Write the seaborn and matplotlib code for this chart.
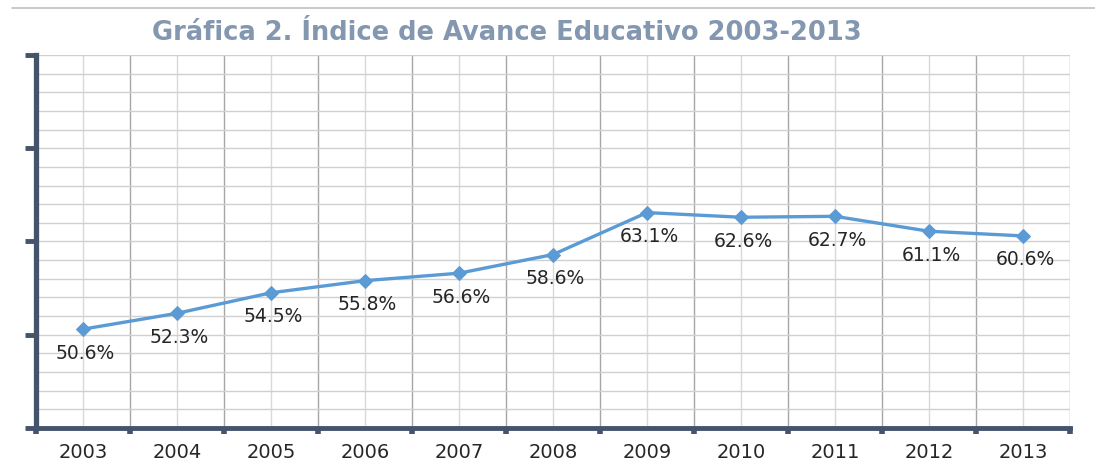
import matplotlib
matplotlib.use("Agg")
import matplotlib.pyplot as plt
import seaborn as sns
import pandas as pd
import numpy as np
from matplotlib.ticker import FixedLocator, MultipleLocator, NullFormatter
from matplotlib.lines import Line2D

years = ["2003", "2004", "2005", "2006", "2007", "2008", "2009", "2010", "2011", "2012", "2013"]
values = [50.6, 52.3, 54.5, 55.8, 56.6, 58.6, 63.1, 62.6, 62.7, 61.1, 60.6]
labels = ["50.6%", "52.3%", "54.5%", "55.8%", "56.6%", "58.6%", "63.1%", "62.6%", "62.7%", "61.1%", "60.6%"]
title = "Gráfica 2. Índice de Avance Educativo 2003-2013"

sns.set_theme(style="white")
plt.rcParams['font.family'] = ['DejaVu Sans']

df = pd.DataFrame({"year": years, "value": values})

fig = plt.figure(figsize=(10.95, 4.70), dpi=100)
ax = fig.add_axes([36/1095, 1 - 428/470, (1070 - 36)/1095, (428 - 55)/470])

line_color = "#5b9bd5"
spine_color = "#44546a"

sns.lineplot(data=df, x="year", y="value", ax=ax, color=line_color, linewidth=2.4,
             marker="D", markersize=7, markeredgecolor=line_color, zorder=5, sort=False)

n = len(years)
ax.set_xlim(-0.5, n - 0.5)
ax.set_ylim(40, 80)

# x ticks: major at boundaries (tick marks), minor at centers (labels)
ax.xaxis.set_major_locator(FixedLocator(np.arange(-0.5, n, 1.0)))
ax.xaxis.set_major_formatter(NullFormatter())
ax.set_xticks(np.arange(n), minor=True)
ax.set_xticklabels(years, minor=True)
ax.tick_params(axis="x", which="major", length=4, width=4, color=spine_color, direction="out", bottom=True)
ax.tick_params(axis="x", which="minor", length=0, pad=11, labelsize=14, labelcolor="#262626")

# y ticks: major every 10 (marks, no labels), minor every 2 (grid)
ax.yaxis.set_major_locator(MultipleLocator(10))
ax.yaxis.set_minor_locator(MultipleLocator(2))
ax.yaxis.set_major_formatter(NullFormatter())
ax.tick_params(axis="y", which="major", length=8, width=3.5, color=spine_color, direction="out", left=True)
ax.tick_params(axis="y", which="minor", length=0, left=False)

ax.grid(True, axis="x", which="major", color="#a6a6a6", linewidth=1.0)
ax.grid(True, axis="x", which="minor", color="#d9d9d9", linewidth=1.0)
ax.grid(True, axis="y", which="both", color="#d0d0d0", linewidth=1.0)
ax.set_axisbelow(True)

for s in ["top", "right"]:
    ax.spines[s].set_visible(False)
ax.spines["left"].set_color(spine_color)
ax.spines["left"].set_linewidth(3.8)
ax.spines["bottom"].set_color(spine_color)
ax.spines["bottom"].set_linewidth(3.5)
ax.set_xlabel("")
ax.set_ylabel("")

for i, (v, t) in enumerate(zip(values, labels)):
    ax.annotate(t, xy=(i, v), xytext=(2, -24), textcoords="offset pixels",
                ha="center", va="center", fontsize=13.5, color="#262626", zorder=6)

fig.text(507/1095, 1 - 33/470, title, ha="center", va="center", fontsize=18.5,
         fontweight="bold", color="#8497b0")

fig.add_artist(Line2D([12/1095, 1.0], [1 - 8/470, 1 - 8/470], transform=fig.transFigure,
                      color="#c0c0c0", linewidth=1.2))

fig.savefig("out.png", dpi=100, facecolor="white")
